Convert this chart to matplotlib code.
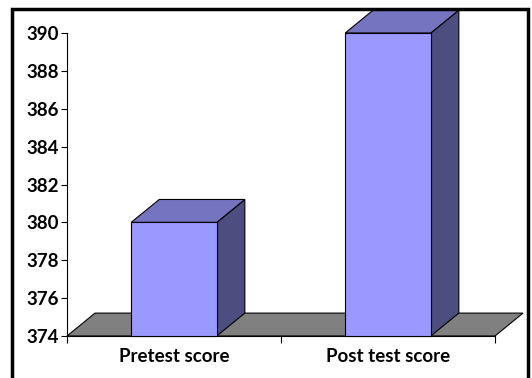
import matplotlib

matplotlib.use("Agg")

import matplotlib.pyplot as plt  # noqa: E402
from matplotlib.patches import Polygon, Rectangle  # noqa: E402

categories = ["Pretest score", "Post test score"]
scores = [380, 390]
y_ticks = [374, 376, 378, 380, 382, 384, 386, 388, 390]

Y_MIN, Y_MAX = 374, 390
BAR_WIDTH = 0.40
# depth of the pseudo-3D extrusion, in data units
DEPTH_X = 0.131
DEPTH_Y = 1.21

FRONT = "#9999FF"
TOP = "#7474C0"
SIDE = "#4D4D80"
FLOOR = "#808080"

plt.rcParams["font.family"] = ["Lato", "DejaVu Sans"]

fig = plt.figure(figsize=(5.32, 3.78), dpi=100)
ax = fig.add_axes([67 / 532, 1 - 336 / 378, 428 / 532, 303 / 378])
ax.set_xlim(-0.5, 1.5)
ax.set_ylim(Y_MIN, Y_MAX)

# floor
x0, x1 = -0.5, 1.5
ax.add_patch(Polygon(
    [(x0, Y_MIN), (x1, Y_MIN), (x1 + DEPTH_X, Y_MIN + DEPTH_Y), (x0 + DEPTH_X, Y_MIN + DEPTH_Y)],
    closed=True, facecolor=FLOOR, edgecolor="black", linewidth=0.8, clip_on=False, zorder=1,
))

for i, value in enumerate(scores):
    left = i - BAR_WIDTH / 2
    right = i + BAR_WIDTH / 2
    top_face = [(left, value), (right, value), (right + DEPTH_X, value + DEPTH_Y), (left + DEPTH_X, value + DEPTH_Y)]
    side_face = [(right, Y_MIN), (right + DEPTH_X, Y_MIN + DEPTH_Y), (right + DEPTH_X, value + DEPTH_Y), (right, value)]
    ax.add_patch(Polygon(side_face, closed=True, facecolor=SIDE, edgecolor="black",
                         linewidth=0.8, clip_on=False, zorder=2))
    ax.add_patch(Polygon(top_face, closed=True, facecolor=TOP, edgecolor="black",
                         linewidth=0.8, clip_on=False, zorder=2))
    ax.bar(i, value - Y_MIN, bottom=Y_MIN, width=BAR_WIDTH, color=FRONT,
           edgecolor="black", linewidth=0.8, zorder=3, clip_on=False)

ax.set_yticks(y_ticks)
ax.set_yticklabels([str(t) for t in y_ticks], fontsize=13.5, fontweight="bold")
ax.set_xticks([-0.5, 0.5, 1.5])
ax.set_xticklabels([])
ax.set_xticks([0, 1], minor=True)
ax.set_xticklabels(categories, minor=True, fontsize=13.5, fontweight="bold")
ax.tick_params(axis="x", which="minor", length=0, pad=9)
ax.tick_params(axis="x", which="major", length=5, width=0.8)
ax.tick_params(axis="y", length=4, width=0.8, pad=2)

for side in ("top", "right"):
    ax.spines[side].set_visible(False)
ax.spines["left"].set_linewidth(0.8)
ax.spines["bottom"].set_linewidth(0.8)
ax.patch.set_visible(False)

# chart frame; its lower edge runs off the figure
fig.patches.append(Rectangle((12 / 532, -0.05), 516 / 532, 1.05 - 9 / 378,
                             transform=fig.transFigure, fill=False,
                             edgecolor="black", linewidth=2.5))

fig.savefig("out.png", dpi=100)
